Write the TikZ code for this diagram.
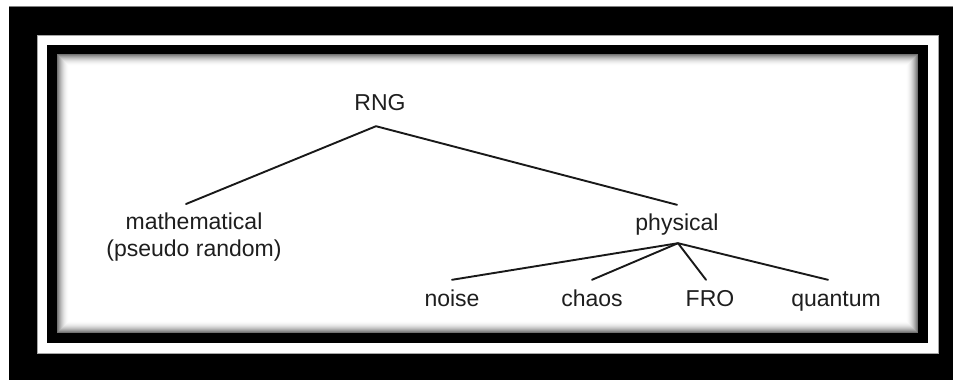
\documentclass[tikz,border=0pt]{standalone}
\usepackage{fontspec}
\setmainfont{Liberation Sans}
\definecolor{txt}{RGB}{30,30,30}
\begin{document}
\begin{tikzpicture}[x=1pt,y=-1pt,
  lbl/.style={font=\fontsize{23}{27}\selectfont, text=txt, text height=17pt, text depth=5pt, inner xsep=0pt, inner ysep=9pt},
  edge/.style={draw=black!90, line width=1.9pt, line cap=round, line join=round}]
\useasboundingbox (0,0) rectangle (953,380);
% frame
\fill[white] (0,0) rectangle (953,380);
\fill[black] (9,7) rectangle (953,380);
\draw[gray, line width=0.6pt] (9,6.7) -- (953,6.7);
\fill[white] (37,35) rectangle (938,353);
\draw[gray!70, line width=0.6pt] (37,35) rectangle (938,353);
\fill[black] (47,45) rectangle (928,343);
\fill[white] (57,54) rectangle (918,333);
\foreach \i in {0,...,11}{
  \pgfmathsetmacro\op{0.55*(1-\i/12)^2}
  \draw[black, opacity=\op, line width=1pt] ({57+\i+0.5},{54+\i+0.5}) rectangle ({918-\i-0.5},{333-\i-0.5});
}
% nodes
\node[lbl, anchor=base, inner ysep=11pt] (rng) at (380,110) {RNG};
\node[font=\fontsize{23}{27}\selectfont, text=txt, align=center, inner sep=0pt, anchor=north] (math) at (194,213) {mathematical\\(pseudo random)};
\node[lbl, anchor=base, inner ysep=8pt] (phys) at (677,230) {physical};
\node[lbl, anchor=base] (noise) at (452,306) {noise};
\node[lbl, anchor=base] (chaos) at (592,306) {chaos};
\node[lbl, anchor=base] (fro) at (710,306) {FRO};
\node[lbl, anchor=base] (quant) at (836,306) {quantum};
% connectors
\draw[edge] ([xshift=-8pt,yshift=9pt]math.north) -- ([xshift=-4pt]rng.south) -- (phys.north);
\draw[edge] (noise.north) -- ([xshift=1pt]phys.south) -- ([xshift=-8pt]quant.north);
\draw[edge] (chaos.north) -- ([xshift=1pt]phys.south) -- ([xshift=-4pt]fro.north);
\end{tikzpicture}
\end{document}
